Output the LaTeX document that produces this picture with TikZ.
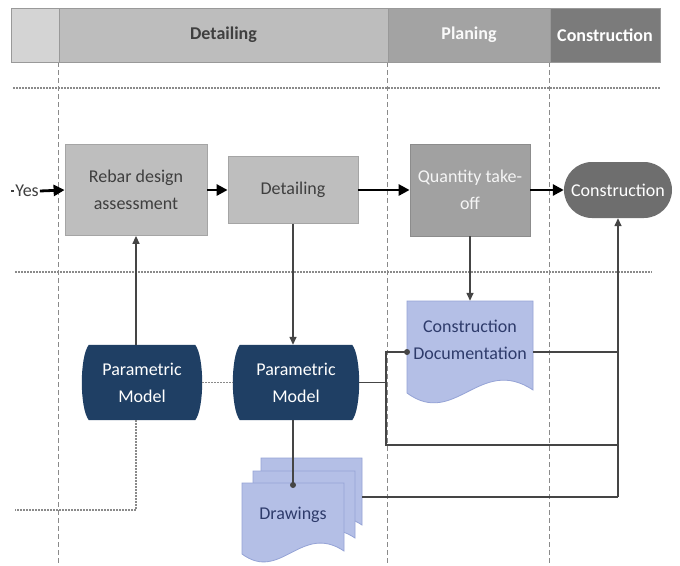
\documentclass[tikz,border=0pt]{standalone}
\usepackage{fontspec}
\setmainfont{Carlito}
\usetikzlibrary{arrows.meta,backgrounds}
\definecolor{hdrA}{HTML}{D4D4D4}
\definecolor{hdrB}{HTML}{BDBDBD}
\definecolor{hdrC}{HTML}{A3A3A3}
\definecolor{hdrD}{HTML}{7B7B7B}
\definecolor{hdredge}{HTML}{999999}
\definecolor{boxgray}{HTML}{BEBEBE}
\definecolor{boxedge}{HTML}{A5A5A5}
\definecolor{boxmid}{HTML}{A1A1A1}
\definecolor{boxmidedge}{HTML}{8C8C8C}
\definecolor{boxdark}{HTML}{6E6E6E}
\definecolor{navy}{HTML}{1F3F64}
\definecolor{docblue}{HTML}{B4BFE6}
\definecolor{docedge}{HTML}{95A3D6}
\definecolor{doctext}{HTML}{2E3B6B}
\definecolor{linegray}{HTML}{454545}
\definecolor{guidegray}{HTML}{8A8A8A}
\definecolor{txtgray}{HTML}{3F3F3F}
\newcommand{\wavedoc}[4]{%
  \pgfmathsetmacro{\wa}{#2-0.42*(#2-#1)}%
  \pgfmathsetmacro{\wb}{#1+0.38*(#2-#1)}%
  \pgfmathsetmacro{\wh}{0.28*(#2-#1)}%
  \filldraw[fill=docblue,draw=docedge,line width=0.8pt] (#1,#3) -- (#2,#3) -- (#2,#4)
    .. controls (\wa,#4-\wh) and (\wb,#4+\wh+3) .. (#1,#4+3) -- cycle;}
\newcommand{\pmfill}[1]{%
  \fill[navy] ([xshift=7pt]#1.north west) -- ([xshift=-7pt]#1.north east)
    .. controls ([xshift=2.3pt,yshift=-12pt]#1.north east) and ([xshift=2.3pt,yshift=12pt]#1.south east)
    .. ([xshift=-7pt]#1.south east) -- ([xshift=7pt]#1.south west)
    .. controls ([xshift=-2.3pt,yshift=12pt]#1.south west) and ([xshift=-2.3pt,yshift=-12pt]#1.north west)
    .. cycle;}
\tikzset{
  hdr/.style={draw=hdredge, line width=0.8pt, minimum height=54pt, inner sep=0pt,
    font=\fontsize{18}{22}\selectfont\bfseries},
  txt/.style={font=\fontsize{18}{27}\selectfont, align=center, inner sep=0pt},
  procbox/.style={txt, draw=boxedge, line width=0.8pt, fill=boxgray, text=txtgray},
  pmnode/.style={txt, minimum height=75pt, text=white},
  docnode/.style={txt, text=doctext},
  flow/.style={draw=black, line width=2.8pt, -{Triangle[length=11pt,width=11pt]}},
  conn/.style={draw=linegray, line width=1.4pt},
  connarrow/.style={conn, -{Triangle[length=8pt,width=7pt]}},
  guide/.style={draw=guidegray, line width=0.7pt, dash pattern=on 5pt off 3pt},
  hguide/.style={draw=guidegray, line width=1.4pt, dash pattern=on 1.5pt off 1.5pt},
  pmlink/.style={draw=guidegray, line width=1.3pt, dash pattern=on 1.5pt off 1.5pt},
}
\begin{document}
\begin{tikzpicture}[x=1pt,y=-1pt]
\useasboundingbox (0,0) rectangle (680,565);
% header
\node[hdr, fill=hdrA, minimum width=48pt] (hpre) at (35,35) {};
\node[hdr, fill=hdrB, minimum width=329pt, text=txtgray] (hdet) at (223.5,35) {Detailing};
\node[hdr, fill=hdrC, minimum width=162pt, text=white!95!gray] (hplan) at (469,35) {Planing};
\node[hdr, fill=hdrD, minimum width=110pt, text=white] (hcons) at (605,35) {Construction};
% process nodes
\node[procbox, minimum width=142pt, minimum height=91pt] (rebar) at (136,190) {Rebar design\\assessment};
\node[procbox, minimum width=130pt, minimum height=67pt] (det) at (293,190) {Detailing};
\node[procbox, fill=boxmid, draw=boxmidedge, text=white!92!gray, minimum width=120pt, minimum height=92pt] (qto) at (470,190) {Quantity take-\\off};
\node[txt, fill=boxdark, rounded corners=28pt, minimum width=108pt, minimum height=56pt, text=white] (cons) at (618,190) {Construction};
\node[txt, text=txtgray, inner sep=1pt] (yes) at (27,191) {Yes};
% data nodes
\node[pmnode, minimum width=120pt] (pm1) at (142,382.5) {Parametric\\Model};
\node[pmnode, minimum width=126pt] (pm2) at (296,382.5) {Parametric\\Model};
\node[docnode, minimum width=126pt, minimum height=78pt] (docs) at (470,340) {Construction\\Documentation};
\node[docnode] (drw) at (293,515) {Drawings};
% coordinates
\coordinate (yesin) at (11,191);
\coordinate (docdot) at (407,352);
\coordinate (busL) at (386,445);
\coordinate (busR) at (618,445);
\coordinate (drwtop) at (293,485);
\coordinate (drwout) at (362,497);
\coordinate (pmend) at (15,510);
\begin{scope}[on background layer]
  \fill[white] (0,0) rectangle (680,565);
  \draw[guide] (hdet.south west) -- ++(0,503);
  \draw[guide] (hplan.south west) -- ++(0,503);
  \draw[guide] (hcons.south west) -- ++(0,503);
  \draw[hguide] (13,88) -- (660,88);
  \draw[hguide] (15,272) -- (652,272);
  \pmfill{pm1}
  \pmfill{pm2}
  \wavedoc{407}{533}{301}{390}
  \wavedoc{261}{362}{458}{525}
  \wavedoc{253}{355}{471}{538}
  \wavedoc{242}{344}{483}{551}
\end{scope}
% connectors
\draw[line width=1.2pt, draw=txtgray] (yesin) -- (yes.west);
\draw[flow] (yes.east) -- (rebar.west);
\draw[flow] (rebar.east) -- (det.west);
\draw[flow] (det.east) -- (qto.west);
\draw[flow] (qto.east) -- (cons.west);
\draw[connarrow] (rebar.south |- pm1.north) -- (rebar.south);
\draw[connarrow] (det.south) -- (det.south |- pm2.north);
\draw[connarrow] (qto.south) -- (qto.south |- docs.north);
\draw[pmlink] (pm1.east) -- (pm2.west);
\draw[pmlink] (rebar.south |- pm1.south) -- (rebar.south |- pmend) -- (pmend);
\draw[conn] (det.south |- pm2.south) -- (drwtop);
\fill[linegray] (drwtop) circle (3pt);
\draw[conn] (pm2.east) -- (busL |- pm2.east);
\draw[conn] (docdot) -- (busL |- docdot) -- (busL) -- (busR);
\fill[linegray] (docdot) circle (3pt);
\draw[conn] (docs.east |- docdot) -- (busR |- docdot);
\draw[conn] (drwout) -- (busR |- drwout);
\draw[connarrow] (busR |- drwout) -- (cons.south);
\end{tikzpicture}
\end{document}
